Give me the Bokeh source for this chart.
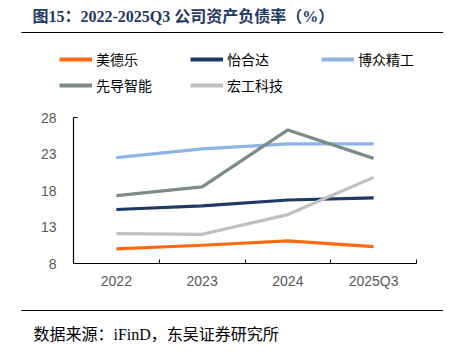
from bokeh.plotting import figure
from bokeh.layouts import column
from bokeh.models import Label, Legend, LegendItem, FixedTicker, Range1d
from bokeh.embed import file_html
from bokeh.resources import INLINE

# ---- data ----
categories = ["2022", "2023", "2024", "2025Q3"]
series_names = ["美德乐", "怡合达", "博众精工", "先导智能", "宏工科技"]
meideli = [10.0, 10.5, 11.1, 10.3]
yiheda = [15.4, 15.9, 16.7, 17.0]
bozhong = [22.5, 23.7, 24.4, 24.4]
xiandao = [17.3, 18.5, 26.3, 22.4]
honggong = [12.1, 12.0, 14.7, 19.8]
y_ticks = [8, 13, 18, 23, 28]
colors = ["#FF6A10", "#1F3864", "#8EB4E3", "#7B8C86", "#BFBFBF"]
legend_order = [0, 3, 1, 4, 2]   # legend fills column by column

title_text = "图15：2022-2025Q3 公司资产负债率（%）"
source_text = "数据来源：iFinD，东吴证券研究所"

W = 460
TOP_H, CHART_H, FOOT_H = 100, 205, 47
FL, FR = 73, 416          # frame left/right (canvas px)
FT, FB = 117, 263         # frame top/bottom (canvas px)
RULE_L, RULE_R = 21, 443
LINE_W = 3.2
NAN = float("nan")


def blank_fig(h):
    f = figure(width=W, height=h, output_backend="svg", toolbar_location=None,
               x_range=Range1d(0, W), y_range=Range1d(0, h),
               x_axis_location=None, y_axis_location=None,
               min_border=0, frame_align=False)
    f.outline_line_color = None
    f.xgrid.visible = False
    f.ygrid.visible = False
    f.background_fill_color = "white"
    f.border_fill_color = "white"
    return f


def rule(f, y_from_top, h):
    # horizontal rule drawn as a legend glyph (legend glyphs render reliably)
    d = f.line(x=[NAN, NAN], y=[NAN, NAN], line_color="black", line_width=1.2)
    f.add_layout(Legend(items=[LegendItem(label=" ", renderers=[d])],
                        location=(RULE_L, h - y_from_top - 1), orientation="horizontal",
                        padding=0, margin=0, spacing=0,
                        glyph_width=RULE_R - RULE_L, glyph_height=2, label_height=2, label_width=0,
                        label_standoff=0, label_text_font_size="1px",
                        border_line_color=None, background_fill_alpha=0), "center")


# ---- top: title, rule, legend ----
top = blank_fig(TOP_H)
top.add_layout(Label(x=32, y=TOP_H - 16, text=title_text,
                     text_font="'Liberation Serif', 'Noto Sans CJK SC'", text_font_size="16px",
                     text_font_style="bold", text_color="#1F3864", text_baseline="middle"))
rule(top, 31.5, TOP_H)

dummies = [top.line(x=[NAN, NAN], y=[NAN, NAN], line_color=c, line_width=4) for c in colors]
legend = Legend(items=[LegendItem(label=series_names[i], renderers=[dummies[i]]) for i in legend_order],
                ncols=3, location=(59, TOP_H - (58.7 + 10 + 26)),
                padding=0, margin=0, spacing=6,
                glyph_width=33, glyph_height=20, label_height=20, label_width=88,
                label_standoff=4,
                label_text_font="Noto Sans CJK SC", label_text_font_size="14px",
                label_text_color="#000000",
                border_line_color=None, background_fill_alpha=0)
top.add_layout(legend, "center")

# ---- chart ----
top_off = TOP_H
p = figure(width=W, height=CHART_H, output_backend="svg", toolbar_location=None,
           x_range=Range1d(0, len(categories)), y_range=Range1d(y_ticks[0], y_ticks[-1]),
           min_border_left=FL, min_border_right=W - FR,
           min_border_top=FT - top_off, min_border_bottom=top_off + CHART_H - FB,
           frame_align=False)
p.outline_line_color = None
p.xgrid.visible = False
p.ygrid.visible = False
p.background_fill_color = "white"
p.border_fill_color = "white"

xs = [i + 0.5 for i in range(len(categories))]
all_series = [meideli, yiheda, bozhong, xiandao, honggong]
for ys, c in zip(all_series, colors):
    p.line(xs, ys, line_color=c, line_width=LINE_W)

xa = p.xaxis[0]
xa.ticker = FixedTicker(ticks=xs, minor_ticks=list(range(len(categories) + 1)))
xa.major_label_overrides = {x: c for x, c in zip(xs, categories)}
xa.major_tick_in = 0
xa.major_tick_out = 0
xa.minor_tick_in = 4
xa.minor_tick_out = 0
xa.minor_tick_line_color = "black"
xa.axis_line_color = "black"
xa.axis_line_width = 1.2
xa.major_label_text_font = "Liberation Sans"
xa.major_label_text_font_size = "14px"
xa.major_label_text_color = "#595959"
xa.major_label_standoff = 9

ya = p.yaxis[0]
ya.ticker = FixedTicker(ticks=y_ticks, minor_ticks=[y_ticks[-1]])
ya.major_tick_in = 0
ya.major_tick_out = 0
ya.minor_tick_in = 4
ya.minor_tick_out = 0
ya.minor_tick_line_color = "black"
ya.axis_line_color = "black"
ya.axis_line_width = 1.2
ya.major_label_text_font = "Liberation Sans"
ya.major_label_text_font_size = "14px"
ya.major_label_text_color = "#595959"
ya.major_label_standoff = 17

# ---- footer ----
foot_off = TOP_H + CHART_H
foot = blank_fig(FOOT_H)
rule(foot, 309.5 - foot_off, FOOT_H)
foot.add_layout(Label(x=33, y=FOOT_H - (334 - foot_off), text=source_text,
                      text_font="'Liberation Serif', 'Noto Sans CJK SC'", text_font_size="16px",
                      text_color="#000000", text_baseline="middle"))

layout = column(top, p, foot, spacing=0)
open("out.html", "w").write(file_html(layout, INLINE))
